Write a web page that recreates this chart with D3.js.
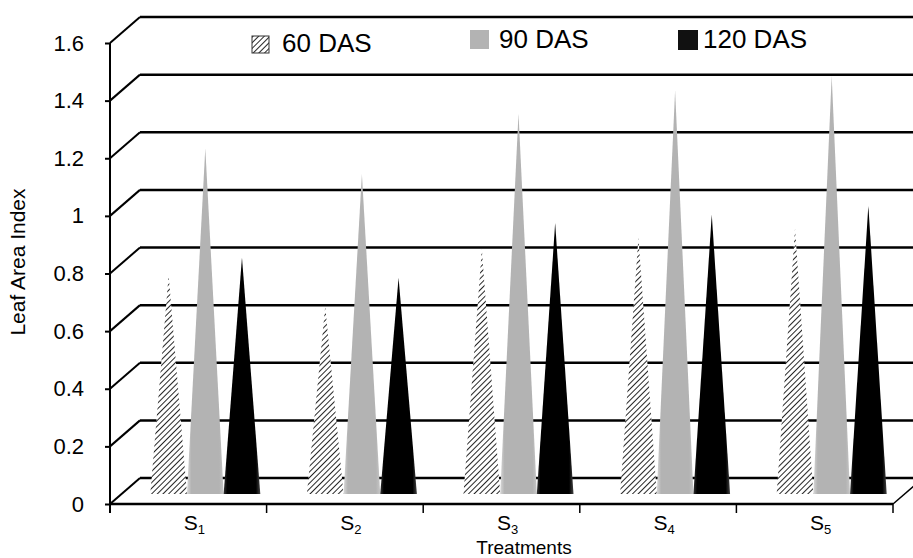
<!DOCTYPE html>
<html>
<head>
<meta charset="utf-8">
<script src="https://cdn.jsdelivr.net/npm/d3@7"></script>
<style>
  html, body { margin: 0; padding: 0; background: #fff; }
  svg { display: block; font-family: "Liberation Sans", Arial, sans-serif; }
</style>
</head>
<body>
<svg id="chart" width="913" height="558"></svg>
<script>
// ---- data ----
const categories = ["S1", "S2", "S3", "S4", "S5"];
const series = ["60 DAS", "90 DAS", "120 DAS"];
const das60  = [0.75, 0.64, 0.84, 0.88, 0.91];
const das90  = [1.19, 1.10, 1.31, 1.39, 1.44];
const das120 = [0.81, 0.74, 0.93, 0.96, 0.99];
const yTicks = [0, 0.2, 0.4, 0.6, 0.8, 1, 1.2, 1.4, 1.6];
const yTickLabels = ["0", "0.2", "0.4", "0.6", "0.8", "1", "1.2", "1.4", "1.6"];

const values = [das60, das90, das120];

// ---- layout ----
const svg = d3.select("#chart");
const W = 913, H = 558;
const pLeft = 110, pRight = 893, pBottom = 504, pTop = 43;
const depthX = 30, depthY = -26;

const y = d3.scaleLinear().domain([0, 1.6]).range([pBottom, pTop]);
const x = d3.scaleBand().domain(categories).range([pLeft, pRight]).padding(0);

const defs = svg.append("defs");
const pat = defs.append("pattern").attr("id", "hatch")
  .attr("patternUnits", "userSpaceOnUse").attr("width", 4).attr("height", 4)
  .attr("patternTransform", "rotate(45)");
pat.append("rect").attr("width", 4).attr("height", 4).attr("fill", "#fff");
pat.append("line").attr("x1", 0).attr("y1", 0).attr("x2", 0).attr("y2", 4)
  .attr("stroke", "#1a1a1a").attr("stroke-width", 1.9);

const gGray = defs.append("linearGradient").attr("id", "gGray");
gGray.append("stop").attr("offset", "0%").attr("stop-color", "#d8d8d8");
gGray.append("stop").attr("offset", "12%").attr("stop-color", "#b3b3b3");
gGray.append("stop").attr("offset", "88%").attr("stop-color", "#b3b3b3");
gGray.append("stop").attr("offset", "100%").attr("stop-color", "#c6c6c6");
const gBlack = defs.append("linearGradient").attr("id", "gBlack");
gBlack.append("stop").attr("offset", "0%").attr("stop-color", "#333");
gBlack.append("stop").attr("offset", "10%").attr("stop-color", "#000");
gBlack.append("stop").attr("offset", "88%").attr("stop-color", "#000");
gBlack.append("stop").attr("offset", "100%").attr("stop-color", "#444");

const fills = ["url(#hatch)", "url(#gGray)", "url(#gBlack)"];
const legendFills = ["url(#hatch)", "#b3b3b3", "#111"];

// ---- back wall gridlines + left side diagonals ----
const grid = svg.append("g");
yTicks.forEach(t => {
  grid.append("line")
    .attr("x1", pLeft + depthX).attr("x2", W + 5)
    .attr("y1", y(t) + depthY).attr("y2", y(t) + depthY)
    .attr("stroke", "#000").attr("stroke-width", 2.5);
  grid.append("line")
    .attr("x1", pLeft).attr("y1", y(t))
    .attr("x2", pLeft + depthX).attr("y2", y(t) + depthY)
    .attr("stroke", "#000").attr("stroke-width", 2);
});
// floor right diagonal
grid.append("line")
  .attr("x1", pRight).attr("y1", y(0))
  .attr("x2", pRight + depthX).attr("y2", y(0) + depthY)
  .attr("stroke", "#000").attr("stroke-width", 1.5);

// ---- cones ----
const baseY = y(0) - 10;
const cones = svg.append("g");
categories.forEach((c, ci) => {
  const center = x(c) + x.bandwidth() / 2 + 17;
  const inner = d3.scaleBand().domain(series).range([center - 55, center + 55]);
  series.forEach((s, si) => {
    const v = values[si][ci];
    const x0 = inner(s), x1 = inner(s) + inner.bandwidth();
    const xm = (x0 + x1) / 2;
    const tip = y(v) + depthY / 2;
    cones.append("path")
      .attr("d", `M${x0},${baseY}L${xm},${tip}L${x1},${baseY}Z`)
      .attr("fill", fills[si]);
  });
});

// ---- y axis ----
const yAxis = d3.axisLeft(y).tickValues(yTicks).tickSize(5).tickPadding(21)
  .tickFormat((d, i) => yTickLabels[i]);
const gy = svg.append("g").attr("transform", `translate(${pLeft},0)`).call(yAxis);
gy.select(".domain").remove();
gy.selectAll(".tick line").attr("stroke", "#000").attr("stroke-width", 2);
gy.selectAll(".tick text").attr("font-size", 22).attr("fill", "#000")
  .attr("font-family", "Liberation Sans, Arial, sans-serif");
svg.append("line").attr("x1", pLeft).attr("x2", pLeft)
  .attr("y1", pTop).attr("y2", pBottom + 9).attr("stroke", "#000").attr("stroke-width", 2);

// ---- x axis ----
svg.append("line").attr("x1", pLeft).attr("x2", pRight)
  .attr("y1", pBottom).attr("y2", pBottom).attr("stroke", "#000").attr("stroke-width", 2.5);
const boundaries = categories.map(c => x(c)).concat([x(categories[categories.length - 1]) + x.bandwidth()]);
boundaries.forEach(b => {
  svg.append("line").attr("x1", b).attr("x2", b)
    .attr("y1", pBottom).attr("y2", pBottom + 9).attr("stroke", "#000").attr("stroke-width", 1.5);
});
categories.forEach(c => {
  const t = svg.append("text")
    .attr("x", x(c) + x.bandwidth() / 2 + 6).attr("y", 530)
    .attr("text-anchor", "middle").attr("font-size", 21).attr("fill", "#000");
  t.append("tspan").text(c.charAt(0));
  t.append("tspan").attr("font-size", 13).attr("dy", 4).text(c.slice(1));
});

svg.append("text").attr("x", 524).attr("y", 554).attr("text-anchor", "middle")
  .attr("font-size", 19).attr("fill", "#000").text("Treatments");

svg.append("text").attr("transform", "translate(25,262) rotate(-90)")
  .attr("text-anchor", "middle").attr("font-size", 21).attr("fill", "#000").text("Leaf Area Index");

// ---- legend ----
const legendItems = [
  { sx: 252, sy: 36, size: 17, tx: 282, ty: 52, stroke: true },
  { sx: 470, sy: 30, size: 19, tx: 499, ty: 48, stroke: false },
  { sx: 678, sy: 30, size: 20, tx: 703, ty: 48, stroke: false }
];
const lg = svg.append("g");
series.forEach((s, i) => {
  const it = legendItems[i];
  lg.append("rect").attr("x", it.sx).attr("y", it.sy)
    .attr("width", it.size).attr("height", it.size)
    .attr("fill", legendFills[i])
    .attr("stroke", it.stroke ? "#333" : "none").attr("stroke-width", 1);
  lg.append("text").attr("x", it.tx).attr("y", it.ty)
    .attr("font-size", 26).attr("fill", "#000").text(s);
});
</script>
</body>
</html>
